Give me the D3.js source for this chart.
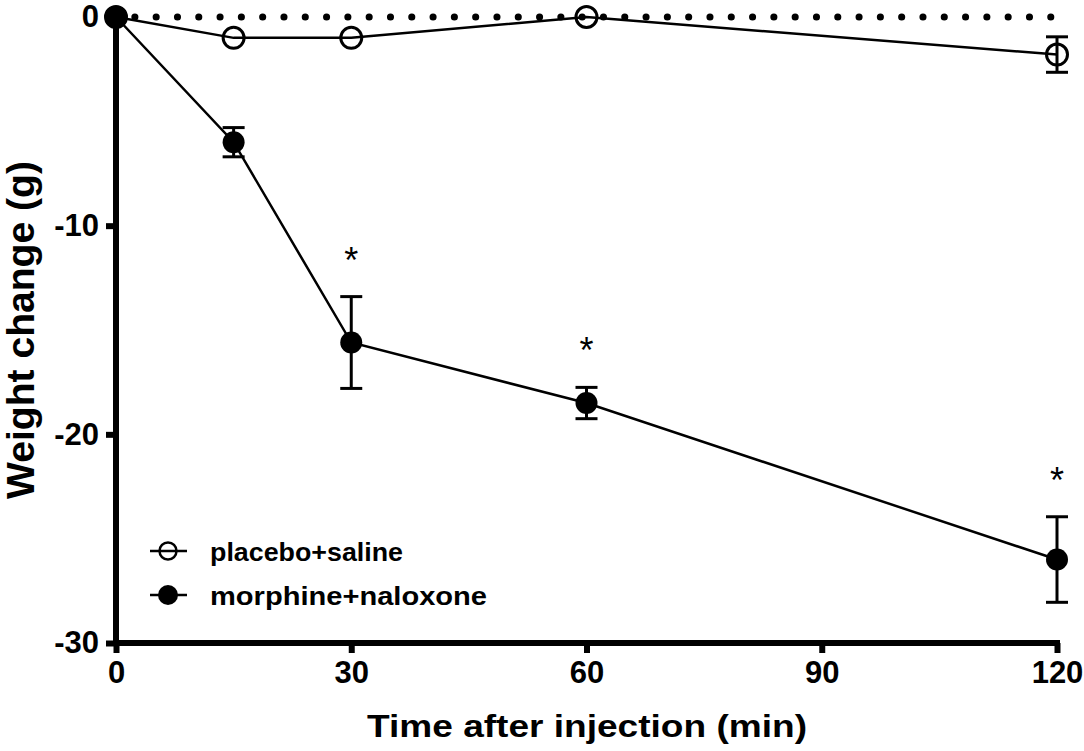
<!DOCTYPE html>
<html>
<head>
<meta charset="utf-8">
<script src="https://cdn.jsdelivr.net/npm/d3@7"></script>
<style>
  body { margin: 0; background: #fff; }
  svg { font-family: "Liberation Sans", Arial, sans-serif; }
  .axis path, .axis line { stroke: #000; }
  .axis text { font-weight: bold; font-size: 31px; fill: #000; }
</style>
</head>
<body>
<svg id="chart" width="1084" height="751"></svg>
<script>
  // data
  const times = [0, 15, 30, 60, 120];
  const placebo = [0, -1.0, -1.0, 0, -1.8];
  const placeboErr = [0, 0, 0, 0, 0.85];
  const morphine = [0, -6.0, -15.6, -18.5, -26.0];
  const morphineErr = [0, 0.7, 2.2, 0.75, 2.05];
  const starTimes = [30, 60, 120];
  const xTicks = [0, 30, 60, 90, 120];
  const yTicks = [0, -10, -20, -30];

  let svg = d3.select('#chart');

  let x = d3.scaleLinear().domain([0, 120]).range([116, 1057]);
  let y = d3.scaleLinear().domain([-30, 0]).range([643, 17]);

  // dotted baseline at 0
  svg.append('line')
    .attr('x1', x(2.4)).attr('x2', x(120))
    .attr('y1', y(0)).attr('y2', y(0))
    .attr('stroke', '#000')
    .attr('stroke-width', 7)
    .attr('stroke-linecap', 'round')
    .attr('stroke-dasharray', '0.1 21.2');

  // axes
  let axisX = d3.axisBottom(x).tickValues(xTicks).tickSize(10).tickPadding(8).tickSizeOuter(0)
    .tickFormat(function (d) { return String(d); });
  let gx = svg.append('g')
    .attr('class', 'axis')
    .attr('transform', 'translate(0,' + y(-30) + ')')
    .call(axisX);
  gx.select('.domain').attr('stroke-width', 6).attr('d', 'M' + (x(0) - 3) + ',0H' + (x(120) + 3));
  gx.selectAll('.tick line').attr('stroke-width', 6);

  let axisY = d3.axisLeft(y).tickValues(yTicks).tickSize(10).tickPadding(7).tickSizeOuter(0)
    .tickFormat(function (d) { return String(d); });
  let gy = svg.append('g')
    .attr('class', 'axis')
    .attr('transform', 'translate(' + x(0) + ',0)')
    .call(axisY);
  gy.select('.domain').attr('stroke-width', 6).attr('d', 'M0,' + (y(0) - 3) + 'V' + (y(-30) + 3));
  gy.selectAll('.tick line').attr('stroke-width', 6);

  // axis titles
  svg.append('text')
    .attr('x', 587).attr('y', 737)
    .attr('text-anchor', 'middle')
    .attr('font-weight', 'bold').attr('font-size', 31)
    .attr('textLength', 440).attr('lengthAdjust', 'spacingAndGlyphs')
    .text('Time after injection (min)');

  svg.append('text')
    .attr('transform', 'translate(34,330) rotate(-90)')
    .attr('text-anchor', 'middle')
    .attr('font-weight', 'bold').attr('font-size', 38)
    .attr('textLength', 338).attr('lengthAdjust', 'spacingAndGlyphs')
    .text('Weight change (g)');

  let line = d3.line().x(function (d) { return x(d[0]); }).y(function (d) { return y(d[1]); });

  function drawSeries(vals, errs, filled) {
    let pts = times.map(function (t, i) { return [t, vals[i], errs[i]]; });
    let g = svg.append('g');
    g.append('path')
      .attr('d', line(pts))
      .attr('fill', 'none').attr('stroke', '#000').attr('stroke-width', 2.5);

    let eb = g.selectAll('.err').data(pts.filter(function (d) { return d[2] > 0; }))
      .enter().append('g');
    eb.append('line')
      .attr('x1', function (d) { return x(d[0]); })
      .attr('x2', function (d) { return x(d[0]); })
      .attr('y1', function (d) { return y(d[1] + d[2]); })
      .attr('y2', function (d) { return y(d[1] - d[2]); })
      .attr('stroke', '#000').attr('stroke-width', 3);
    [1, -1].forEach(function (s) {
      eb.append('line')
        .attr('x1', function (d) { return x(d[0]) - 11; })
        .attr('x2', function (d) { return x(d[0]) + 11; })
        .attr('y1', function (d) { return y(d[1] + s * d[2]); })
        .attr('y2', function (d) { return y(d[1] + s * d[2]); })
        .attr('stroke', '#000').attr('stroke-width', 3);
    });

    g.selectAll('circle').data(pts).enter().append('circle')
      .attr('cx', function (d) { return x(d[0]); })
      .attr('cy', function (d) { return y(d[1]); })
      .attr('r', filled ? 11 : 10.5)
      .attr('fill', filled ? '#000' : 'none')
      .attr('stroke', '#000')
      .attr('stroke-width', filled ? 0 : 3);
  }

  drawSeries(placebo, placeboErr, false);
  drawSeries(morphine, morphineErr, true);

  // significance marks
  svg.selectAll('.star').data(starTimes).enter().append('text')
    .attr('x', function (t) { return x(t); })
    .attr('y', function (t) {
      let i = times.indexOf(t);
      return y(morphine[i] + morphineErr[i]) - 24;
    })
    .attr('text-anchor', 'middle')
    .attr('font-size', 36)
    .text('*');

  // legend
  let legend = [
    {label: 'placebo+saline', filled: false, w: 193},
    {label: 'morphine+naloxone', filled: true, w: 277}
  ];
  let lg = svg.selectAll('.legend').data(legend).enter().append('g')
    .attr('transform', function (d, i) { return 'translate(168,' + (551 + i * 44) + ')'; });
  lg.append('line')
    .attr('x1', -18).attr('x2', 19)
    .attr('stroke', '#000').attr('stroke-width', 2.5);
  lg.append('circle')
    .attr('r', function (d) { return d.filled ? 10 : 8.5; })
    .attr('fill', function (d) { return d.filled ? '#000' : 'none'; })
    .attr('stroke', '#000')
    .attr('stroke-width', function (d) { return d.filled ? 0 : 2.5; });
  lg.append('text')
    .attr('x', 42).attr('y', 10)
    .attr('font-weight', 'bold').attr('font-size', 26)
    .attr('textLength', function (d) { return d.w; })
    .attr('lengthAdjust', 'spacingAndGlyphs')
    .text(function (d) { return d.label; });
</script>
</body>
</html>
